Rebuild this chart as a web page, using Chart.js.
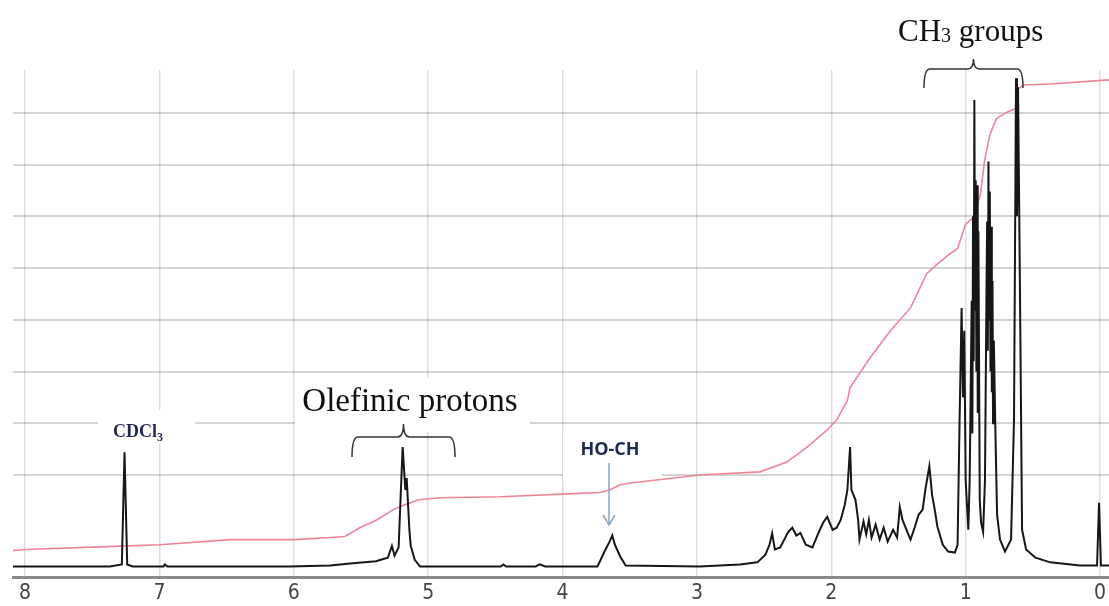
<!DOCTYPE html>
<html>
<head>
<meta charset="utf-8">
<script src="https://cdn.jsdelivr.net/npm/chart.js@4/dist/chart.umd.min.js"></script>
<style>
html,body{margin:0;padding:0;background:#fff;}
canvas{display:block;}
</style>
</head>
<body>
<canvas id="c" width="1109" height="606"></canvas>
<script>
// ---- data (chemical shift in ppm, intensity in grid units) ----
const xTicks = [0, 1, 2, 3, 4, 5, 6, 7, 8];
const yGridTicks = [1, 2, 3, 4, 5, 6, 7, 8];

const spectrumPpm = [
  8.09, 7.37, 7.28, 7.26, 7.24, 7.20, 6.97, 6.96, 6.94, 6.03,
  5.73, 5.58, 5.39, 5.30, 5.27, 5.25, 5.22, 5.20, 5.19, 5.17,
  5.16, 5.14, 5.13, 5.10, 5.06, 4.46, 4.44, 4.42, 4.20, 4.17,
  4.13, 3.74, 3.68, 3.65, 3.63, 3.61, 3.57, 3.53, 2.98, 2.68,
  2.55, 2.49, 2.46, 2.44, 2.42, 2.38, 2.35, 2.32, 2.29, 2.26,
  2.23, 2.19, 2.14, 2.10, 2.06, 2.03, 1.99, 1.96, 1.93, 1.90,
  1.88, 1.86, 1.85, 1.82, 1.80, 1.79, 1.76, 1.74, 1.72, 1.70,
  1.67, 1.64, 1.61, 1.58, 1.54, 1.51, 1.49, 1.47, 1.44, 1.41,
  1.38, 1.35, 1.32, 1.30, 1.27, 1.25, 1.23, 1.21, 1.17, 1.13,
  1.08, 1.06, 1.045, 1.03, 1.02, 1.01, 1.00, 0.98, 0.97, 0.955,
  0.95, 0.945, 0.94, 0.935, 0.93, 0.925, 0.92, 0.915, 0.91, 0.905,
  0.895, 0.885, 0.87, 0.856, 0.845, 0.84, 0.835, 0.83, 0.826, 0.82,
  0.815, 0.81, 0.805, 0.80, 0.796, 0.79, 0.78, 0.766, 0.744, 0.707,
  0.662, 0.64, 0.625, 0.618, 0.61, 0.595, 0.58, 0.55, 0.48, 0.37,
  0.15, 0.022, 0.007, -0.007, -0.067
];
const spectrumIntensity = [
  -0.77, -0.77, -0.73, 1.44, -0.73, -0.77, -0.77, -0.73, -0.77, -0.77,
  -0.75, -0.71, -0.67, -0.60, -0.37, -0.56, -0.40, 0.90, 1.54, 0.71,
  0.94, -0.06, -0.37, -0.64, -0.77, -0.77, -0.73, -0.77, -0.77, -0.73,
  -0.77, -0.77, -0.44, -0.29, -0.17, -0.35, -0.58, -0.75, -0.77, -0.73,
  -0.69, -0.54, -0.35, -0.13, -0.44, -0.40, -0.25, -0.10, -0.02, -0.17,
  -0.12, -0.35, -0.40, -0.15, 0.08, 0.19, -0.06, -0.02, 0.13, 0.42,
  0.71, 1.54, 0.71, 0.52, 0.13, -0.25, 0.10, -0.15, 0.13, -0.21,
  0.04, -0.25, -0.02, -0.29, -0.06, -0.21, 0.38, 0.13, -0.06, -0.25,
  -0.02, 0.23, 0.33, 0.71, 1.17, 0.62, 0.33, 0.00, -0.35, -0.48,
  -0.50, -0.35, 2.06, 4.23, 2.5, 3.79, 0.90, -0.06, 0.90, 4.37,
  1.8, 6.0, 3.2, 8.25, 4.2, 6.7, 3.0, 6.6, 2.2, 5.71,
  0.52, 0.08, -0.10, 0.90, 4.5, 5.90, 3.4, 7.06, 4.0, 6.48,
  3.0, 5.8, 2.6, 4.75, 2.0, 3.6, 2.06, 0.23, -0.25, -0.48,
  -0.25, 2.06, 8.67, 6.0, 8.50, 4.37, -0.06, -0.44, -0.60, -0.69,
  -0.75, -0.75, 0.46, -0.75, -0.75
];

const integralPpm = [
  8.09, 8.00, 7.44, 7.00, 6.47, 6.00, 5.73, 5.62, 5.51, 5.39,
  5.26, 5.18, 5.07, 4.91, 4.46, 4.00, 3.72, 3.65, 3.57, 3.48,
  2.98, 2.53, 2.33, 2.18, 2.03, 1.96, 1.88, 1.86, 1.71, 1.56,
  1.41, 1.29, 1.21, 1.12, 1.06, 1.00, 0.95, 0.89, 0.86, 0.82,
  0.77, 0.69, 0.63, 0.61, 0.57, 0.37, -0.067
];
const integralValue = [
  -0.46, -0.44, -0.39, -0.35, -0.25, -0.25, -0.21, -0.19, -0.02, 0.12,
  0.33, 0.42, 0.52, 0.56, 0.58, 0.63, 0.66, 0.71, 0.81, 0.85,
  1.00, 1.06, 1.25, 1.54, 1.87, 2.06, 2.44, 2.69, 3.27, 3.79,
  4.23, 4.89, 5.08, 5.27, 5.38, 5.85, 5.96, 6.42, 7.06, 7.58,
  7.89, 8.02, 8.08, 8.46, 8.54, 8.56, 8.64
];

// ---- annotation plugin (labels, brackets, arrow) ----
function bracket(ctx, left, right, top, bottom, tipY) {
  const mid = (left + right) / 2, r = 6;
  ctx.beginPath();
  ctx.moveTo(left, bottom);
  ctx.quadraticCurveTo(left, top, left + r, top);
  ctx.lineTo(mid - r, top);
  ctx.quadraticCurveTo(mid, top, mid, tipY);
  ctx.quadraticCurveTo(mid, top, mid + r, top);
  ctx.lineTo(right - r, top);
  ctx.quadraticCurveTo(right, top, right, bottom);
  ctx.stroke();
}

const annotations = {
  id: 'annotations',
  beforeDatasetsDraw(chart) {
    const ctx = chart.ctx;
    ctx.save();
    ctx.fillStyle = '#ffffff';
    ctx.fillRect(98, 410, 97, 34);   // CDCl3 label backdrop
    ctx.fillRect(295, 378, 235, 54); // Olefinic label backdrop
    ctx.fillRect(563, 434, 99, 46);  // HO-CH label backdrop
    ctx.restore();
  },
  afterDatasetsDraw(chart) {
    const ctx = chart.ctx;
    ctx.save();
    ctx.fillStyle = '#111';
    ctx.textBaseline = 'alphabetic';
    ctx.font = '33px "Liberation Serif", "Times New Roman", serif';
    ctx.textAlign = 'center';
    ctx.fillText('Olefinic protons', 410, 411);

    ctx.textAlign = 'left';
    ctx.font = '31px "Liberation Serif", "Times New Roman", serif';
    let x = 898;
    ctx.fillText('CH', x, 41);
    x += ctx.measureText('CH').width;
    ctx.font = '20px "Liberation Serif", "Times New Roman", serif';
    ctx.fillText('3', x, 42);
    x += ctx.measureText('3').width;
    ctx.font = '31px "Liberation Serif", "Times New Roman", serif';
    ctx.fillText(' groups', x, 41);

    ctx.strokeStyle = '#333';
    ctx.lineWidth = 1.5;
    bracket(ctx, 924, 1023, 69, 88, 59);
    bracket(ctx, 352, 455, 437, 457, 424);

    ctx.fillStyle = '#1c2a52';
    ctx.font = 'bold 18px "Liberation Serif", "Times New Roman", serif';
    x = 113;
    ctx.fillText('CDCl', x, 437);
    x += ctx.measureText('CDCl').width;
    ctx.font = 'bold 12px "Liberation Serif", "Times New Roman", serif';
    ctx.fillText('3', x, 441);

    ctx.font = 'bold 18px "Open Sans", "DejaVu Sans", sans-serif';
    ctx.textAlign = 'center';
    ctx.fillText('HO-CH', 610, 455);

    ctx.strokeStyle = '#8ea6c6';
    ctx.lineWidth = 1.5;
    ctx.beginPath();
    ctx.moveTo(609, 463);
    ctx.lineTo(609, 525);
    ctx.moveTo(603, 515);
    ctx.lineTo(609, 525);
    ctx.lineTo(615, 515);
    ctx.stroke();
    ctx.restore();
  }
};

const spectrumData = spectrumPpm.map((p, i) => ({ x: p, y: spectrumIntensity[i] }));
const integralData = integralPpm.map((p, i) => ({ x: p, y: integralValue[i] }));

new Chart(document.getElementById('c'), {
  type: 'line',
  data: {
    datasets: [
      {
        label: 'Spectrum',
        data: spectrumData,
        borderColor: '#161616',
        borderWidth: 2,
        pointRadius: 0,
        tension: 0,
        fill: false
      },
      {
        label: 'Integral',
        data: integralData,
        borderColor: '#ef8498',
        borderWidth: 1.6,
        pointRadius: 0,
        tension: 0,
        fill: false
      }
    ]
  },
  options: {
    responsive: false,
    animation: false,
    events: [],
    layout: { padding: { top: 70, left: 13, right: 0, bottom: 0 } },
    plugins: { legend: { display: false }, tooltip: { enabled: false } },
    scales: {
      x: {
        type: 'linear',
        reverse: true,
        min: -0.067,
        max: 8.09,
        afterBuildTicks: (s) => { s.ticks = xTicks.map(v => ({ value: v })); },
        afterFit: (s) => { s.height = 29; },
        grid: { color: 'rgba(0,0,0,0.13)', lineWidth: 1.5, drawTicks: false },
        border: { display: true, color: '#8a8a8a', width: 3 },
        ticks: {
          padding: 6,
          color: '#444',
          font: { family: '"Liberation Sans Narrow", "DejaVu Sans Condensed", sans-serif', size: 21, lineHeight: 1.0 },
          callback: (v) => String(v),
          maxRotation: 0,
          autoSkip: false
        }
      },
      y: {
        type: 'linear',
        min: -0.973,
        max: 8.83,
        afterBuildTicks: (s) => { s.ticks = yGridTicks.map(v => ({ value: v })); },
        grid: { color: 'rgba(0,0,0,0.17)', lineWidth: 2, drawTicks: false },
        border: { display: false },
        ticks: { display: false }
      }
    }
  },
  plugins: [annotations]
});
</script>
</body>
</html>
